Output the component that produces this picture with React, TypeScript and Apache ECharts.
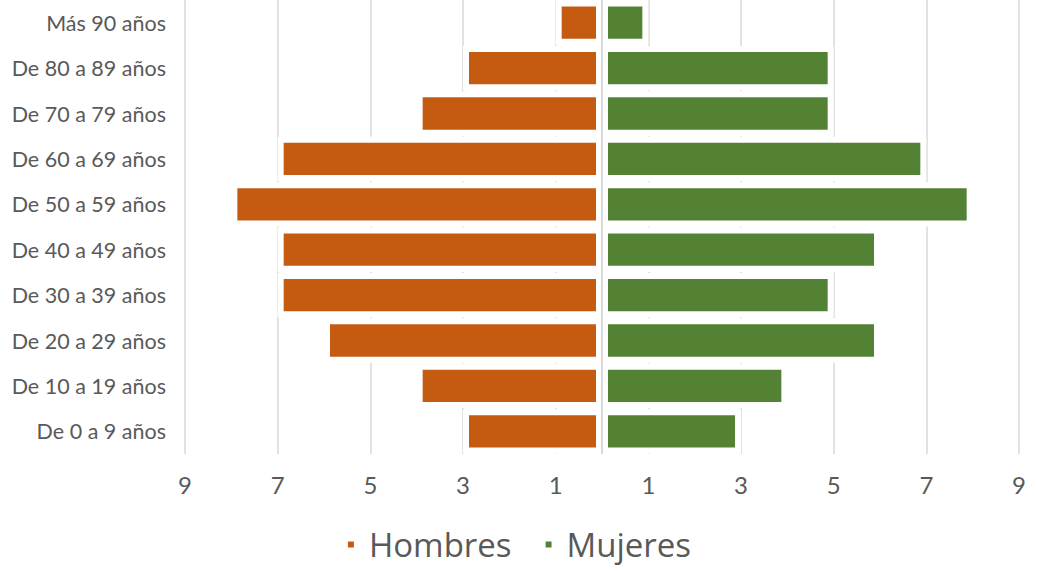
import React, { useEffect, useRef } from "react";
import * as echarts from "echarts";

const categories = [
  "Más 90 años",
  "De 80 a 89 años",
  "De 70 a 79 años",
  "De 60 a 69 años",
  "De 50 a 59 años",
  "De 40 a 49 años",
  "De 30 a 39 años",
  "De 20 a 29 años",
  "De 10 a 19 años",
  "De 0 a 9 años",
];
const hombres = [1, 3, 4, 7, 8, 7, 7, 6, 4, 3];
const mujeres = [1, 5, 5, 7, 8, 6, 5, 6, 4, 3];
const tickValues = [-9, -7, -5, -3, -1, 1, 3, 5, 7, 9];

const FONT = "Lato";
const TEXT = "#595959";

export default function App() {
  const ref = useRef<HTMLDivElement>(null);
  useEffect(() => {
    document.body.style.margin = "0";
    const chart = echarts.init(ref.current!, null, { renderer: "svg" });
    chart.setOption({
      animation: false,
      textStyle: { fontFamily: FONT },
      grid: { left: 185, right: 18, top: 0, bottom: 118, containLabel: false },
      legend: {
        data: ["Hombres", "Mujeres"],
        bottom: 6,
        left: "center",
        icon: "rect",
        itemWidth: 8,
        itemHeight: 8,
        itemGap: 32,
        textStyle: { fontFamily: "Open Sans", fontSize: 33, color: TEXT, padding: [0, 0, 0, 9] },
      },
      xAxis: {
        type: "value",
        min: -9,
        max: 9,
        axisLine: { show: false },
        axisTick: { show: false, customValues: tickValues },
        splitLine: { show: true, lineStyle: { color: "#d9d9d9", width: 1.5 } },
        axisLabel: {
          customValues: tickValues,
          formatter: (v: number) => String(Math.abs(v)),
          fontFamily: FONT,
          fontSize: 24,
          color: TEXT,
          margin: 18,
        },
      },
      yAxis: {
        type: "category",
        data: categories,
        inverse: true,
        axisLine: { show: false, onZero: false },
        axisTick: { show: false },
        axisLabel: { fontFamily: FONT, fontSize: 21.5, color: TEXT, margin: 19 },
      },
      series: [
        {
          name: "Hombres",
          type: "bar",
          stack: "total",
          barCategoryGap: "2.4%",
          data: hombres.map((v) => -v),
          itemStyle: { color: "#C55A11", borderColor: "#ffffff", borderWidth: 6 },
        },
        {
          name: "Mujeres",
          type: "bar",
          stack: "total",
          barCategoryGap: "2.4%",
          data: mujeres,
          itemStyle: { color: "#548235", borderColor: "#ffffff", borderWidth: 6 },
          markLine: {
            silent: true,
            symbol: "none",
            label: { show: false },
            lineStyle: { color: "#d9d9d9", width: 2, type: "solid" },
            data: [{ xAxis: 0 }],
          },
        },
      ],
    });
    return () => chart.dispose();
  }, []);
  return <div ref={ref} style={{ width: 1037, height: 572 }} />;
}
